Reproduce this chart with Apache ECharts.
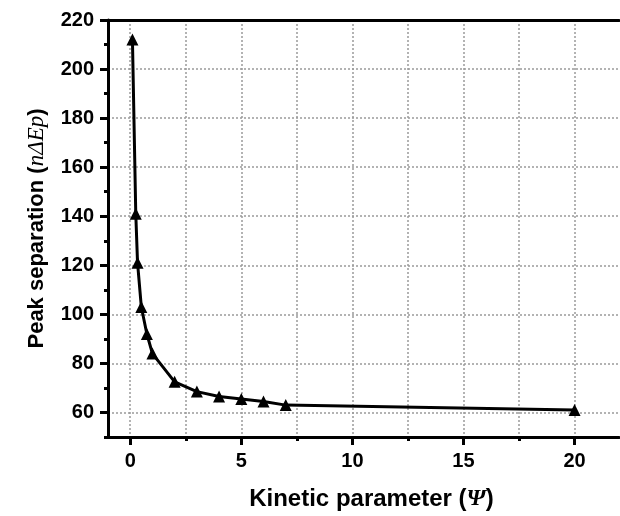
<!DOCTYPE html>
<html>
<head>
<meta charset="utf-8">
<script src="https://cdn.jsdelivr.net/npm/echarts@6/dist/echarts.min.js"></script>
<style>
  html, body { margin: 0; padding: 0; background: #fff; }
  #chart { width: 620px; height: 516px; }
</style>
</head>
<body>
<div id="chart"></div>
<script>
// 数据
const psi = [0.1, 0.25, 0.33, 0.5, 0.75, 1, 2, 3, 4, 5, 6, 7, 20];
const peakSep = [212, 141, 121, 103, 92, 84, 72.5, 68.5, 66.5, 65.5, 64.5, 63, 61];

// 刻度
const xMajorTicks = [0, 5, 10, 15, 20];
const xMinorTicks = [0, 2.5, 5, 7.5, 10, 12.5, 15, 17.5, 20];
const yMajorTicks = [60, 80, 100, 120, 140, 160, 180, 200, 220];

const font = "Liberation Sans";
const black = "#000";

const myChart = echarts.init(document.getElementById("chart"));

const option = {
   backgroundColor: "#fff",
   animation: false,
   grid: { left: 108, right: 1, top: 20, bottom: 77 },
   xAxis: [
      {
         // 主X轴
         type: "value",
         min: -1,
         max: 22,
         position: "bottom",
         name: "{a|Kinetic parameter (}{b|Ψ}{a|)}",
         nameLocation: "middle",
         nameGap: 50,
         nameTextStyle: {
            padding: [0, 0, 0, 16],
            rich: {
               a: { fontFamily: font, fontWeight: "bold", fontSize: 24, color: black },
               b: { fontFamily: "Liberation Serif", fontStyle: "italic", fontWeight: "bold", fontSize: 24, color: black },
            },
         },
         axisLine: { show: true, onZero: false, lineStyle: { color: black, width: 3 } },
         axisTick: { show: true, customValues: xMajorTicks, length: 8, lineStyle: { color: black, width: 3 } },
         axisLabel: {
            customValues: xMajorTicks,
            margin: 14,
            fontFamily: font,
            fontWeight: "bold",
            fontSize: 20,
            color: black,
         },
         splitLine: { show: false },
      },
      {
         // 次刻度 + 网格
         type: "value",
         min: -1,
         max: 22,
         position: "bottom",
         axisLine: { show: false, onZero: false },
         axisTick: { show: true, customValues: xMinorTicks, length: 4, lineStyle: { color: black, width: 3 } },
         axisLabel: { show: false, customValues: xMinorTicks },
         splitLine: { show: true, lineStyle: { color: "#9a9a9a", width: 1.5, type: [2, 2] } },
      },
      {
         // 顶部边线
         type: "value",
         min: -1,
         max: 22,
         position: "top",
         axisLine: { show: true, onZero: false, lineStyle: { color: black, width: 3 } },
         axisTick: { show: false },
         axisLabel: { show: false },
         splitLine: { show: false },
      },
   ],
   yAxis: [
      {
         type: "value",
         min: 50,
         max: 220,
         position: "left",
         name: "{a|Peak separation (}{b|nΔEp}{a|)}",
         nameLocation: "middle",
         nameGap: 60,
         nameRotate: 90,
         nameTextStyle: {
            rich: {
               a: { fontFamily: font, fontWeight: "bold", fontSize: 22, color: black },
               b: { fontFamily: "Liberation Serif", fontStyle: "italic", fontSize: 23, color: black },
            },
         },
         axisLine: { show: true, onZero: false, lineStyle: { color: black, width: 3 } },
         axisTick: { show: true, customValues: yMajorTicks, length: 8, lineStyle: { color: black, width: 3 } },
         axisLabel: {
            customValues: yMajorTicks,
            margin: 14,
            fontFamily: font,
            fontWeight: "bold",
            fontSize: 20,
            color: black,
         },
         splitLine: { show: true, lineStyle: { color: "#9a9a9a", width: 1.5, type: [2, 2] } },
      },
      {
         // 次刻度
         type: "value",
         min: 50,
         max: 220,
         interval: 10,
         position: "left",
         axisLine: { show: false, onZero: false },
         axisTick: { show: true, length: 4, lineStyle: { color: black, width: 3 } },
         axisLabel: { show: false },
         splitLine: { show: false },
      },
   ],
   series: [
      {
         type: "line",
         xAxisIndex: 0,
         yAxisIndex: 0,
         symbol: "triangle",
         symbolSize: 12,
         showAllSymbol: true,
         itemStyle: { color: black },
         lineStyle: { color: black, width: 3 },
         data: psi.map((x, i) => [x, peakSep[i]]),
      },
   ],
};

myChart.setOption(option);
</script>
</body>
</html>
